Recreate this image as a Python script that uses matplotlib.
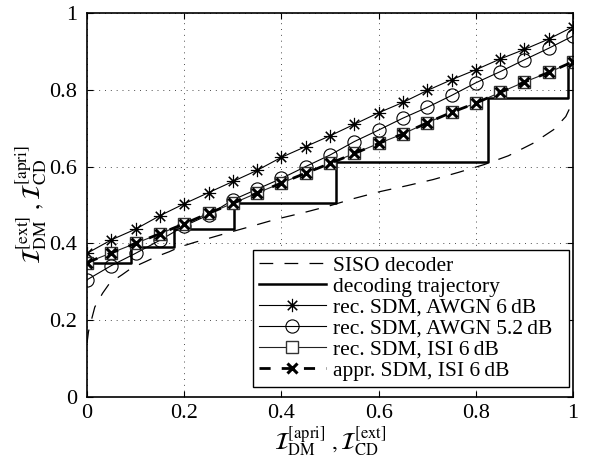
import matplotlib
matplotlib.use("Agg")
import matplotlib.pyplot as plt
import numpy as np

# ---- data ----
x_sdm = [0.00, 0.05, 0.10, 0.15, 0.20, 0.25, 0.30, 0.35, 0.40, 0.45, 0.50,
         0.55, 0.60, 0.65, 0.70, 0.75, 0.80, 0.85, 0.90, 0.95, 1.00]
awgn6 = [0.374, 0.409, 0.437, 0.472, 0.503, 0.532, 0.561, 0.590, 0.624, 0.652, 0.680,
         0.710, 0.740, 0.767, 0.798, 0.826, 0.852, 0.880, 0.905, 0.932, 0.964]
awgn52 = [0.305, 0.342, 0.374, 0.408, 0.445, 0.474, 0.513, 0.541, 0.569, 0.600, 0.630,
          0.665, 0.695, 0.726, 0.754, 0.785, 0.818, 0.847, 0.878, 0.908, 0.940]
isi6 = [0.350, 0.375, 0.400, 0.425, 0.451, 0.478, 0.504, 0.531, 0.557, 0.583, 0.608,
        0.634, 0.660, 0.685, 0.714, 0.741, 0.765, 0.793, 0.820, 0.845, 0.873]
appr_isi6 = [0.350, 0.375, 0.400, 0.425, 0.451, 0.478, 0.504, 0.531, 0.557, 0.583, 0.608,
             0.634, 0.660, 0.685, 0.714, 0.741, 0.765, 0.793, 0.820, 0.845, 0.873]

siso_x = [0.0, 0.003, 0.010, 0.016, 0.032, 0.047, 0.072, 0.092, 0.120, 0.142, 0.169,
          0.190, 0.220, 0.245, 0.286, 0.340, 0.390, 0.446, 0.500, 0.550, 0.604,
          0.658, 0.712, 0.765, 0.817, 0.867, 0.917, 0.960, 0.985, 1.000]
siso_y = [0.140, 0.170, 0.205, 0.234, 0.270, 0.297, 0.318, 0.336, 0.352, 0.365, 0.378,
          0.390, 0.402, 0.411, 0.426, 0.445, 0.463, 0.480, 0.498, 0.517, 0.535,
          0.550, 0.566, 0.585, 0.605, 0.628, 0.660, 0.696, 0.730, 0.770]

traj_x = [0.0, 0.090, 0.178, 0.302, 0.512, 0.826, 0.990]
traj_y = [0.348, 0.390, 0.437, 0.504, 0.613, 0.778, 0.873]

labels = ["SISO decoder", "decoding trajectory", "rec. SDM, AWGN 6\u2009dB",
          "rec. SDM, AWGN 5.2\u2009dB", "rec. SDM, ISI 6\u2009dB", "appr. SDM, ISI 6\u2009dB"]
xticks = [0, 0.2, 0.4, 0.6, 0.8, 1]
tick_labels = ["0", "0.2", "0.4", "0.6", "0.8", "1"]

# ---- style ----
plt.rcParams['font.family'] = ['Liberation Serif', 'DejaVu Serif']
plt.rcParams['mathtext.fontset'] = 'stix'

fig = plt.figure(figsize=(5.92, 4.61), dpi=100)
ax = fig.add_axes([0.147, 0.139, 0.821, 0.833])

l1, = ax.plot(siso_x, siso_y, color='black', lw=0.9, ls=(0, (11, 9)))
l2, = ax.step(traj_x, traj_y, where='post', color='black', lw=1.8)
l3, = ax.plot(x_sdm, awgn6, color='black', lw=0.8, marker=(8, 2, 0), ms=9.5,
              mew=0.8, mfc='none')
l4, = ax.plot(x_sdm, awgn52, color='black', lw=0.8, marker='o', ms=9.5,
              mew=0.8, mfc='none')
l5, = ax.plot(x_sdm, isi6, color='#222222', lw=0.8, marker='s', ms=8,
              mew=1.0, mfc='white', mec='#333333')
l6, = ax.plot(x_sdm, appr_isi6, color='black', lw=2.0, ls=(0, (4, 4)),
              marker='x', ms=7, mew=2.2)

ax.set_xlim(0, 1)
ax.set_ylim(0, 1)
ax.set_xticks(xticks)
ax.set_xticklabels(tick_labels)
ax.set_yticks(xticks)
ax.set_yticklabels(tick_labels)
ax.tick_params(direction='in', top=True, right=True, labelsize=16, length=4,
               width=0.8)
ax.tick_params(axis='x', pad=5)
ax.tick_params(axis='y', pad=7)
ax.grid(True, ls=(0, (1, 5)), color='black', lw=0.7, alpha=0.7)
for s in ax.spines.values():
    s.set_linewidth(1.2)

ax.set_xlabel(r"$\mathcal{I}_{\rm DM}^{[\rm apri]}\ ,\mathcal{I}_{\rm CD}^{[\rm ext]}$",
              fontsize=17, labelpad=1)
ax.set_ylabel(r"$\mathcal{I}_{\rm DM}^{[\rm ext]}\ ,\mathcal{I}_{\rm CD}^{[\rm apri]}$",
              fontsize=18, labelpad=0)

leg = ax.legend([l1, l2, l3, l4, l5, l6], labels, loc='lower right',
                bbox_to_anchor=(0.341, 0.027, 0.651, 0.36), mode='expand',
                fontsize=15.5, frameon=True, fancybox=False, framealpha=1,
                edgecolor='black', borderpad=0.28, labelspacing=0.04,
                handlelength=3.1, handletextpad=0.35, borderaxespad=0.0)
leg.get_frame().set_linewidth(1.0)

fig.savefig("out.png", dpi=100)
